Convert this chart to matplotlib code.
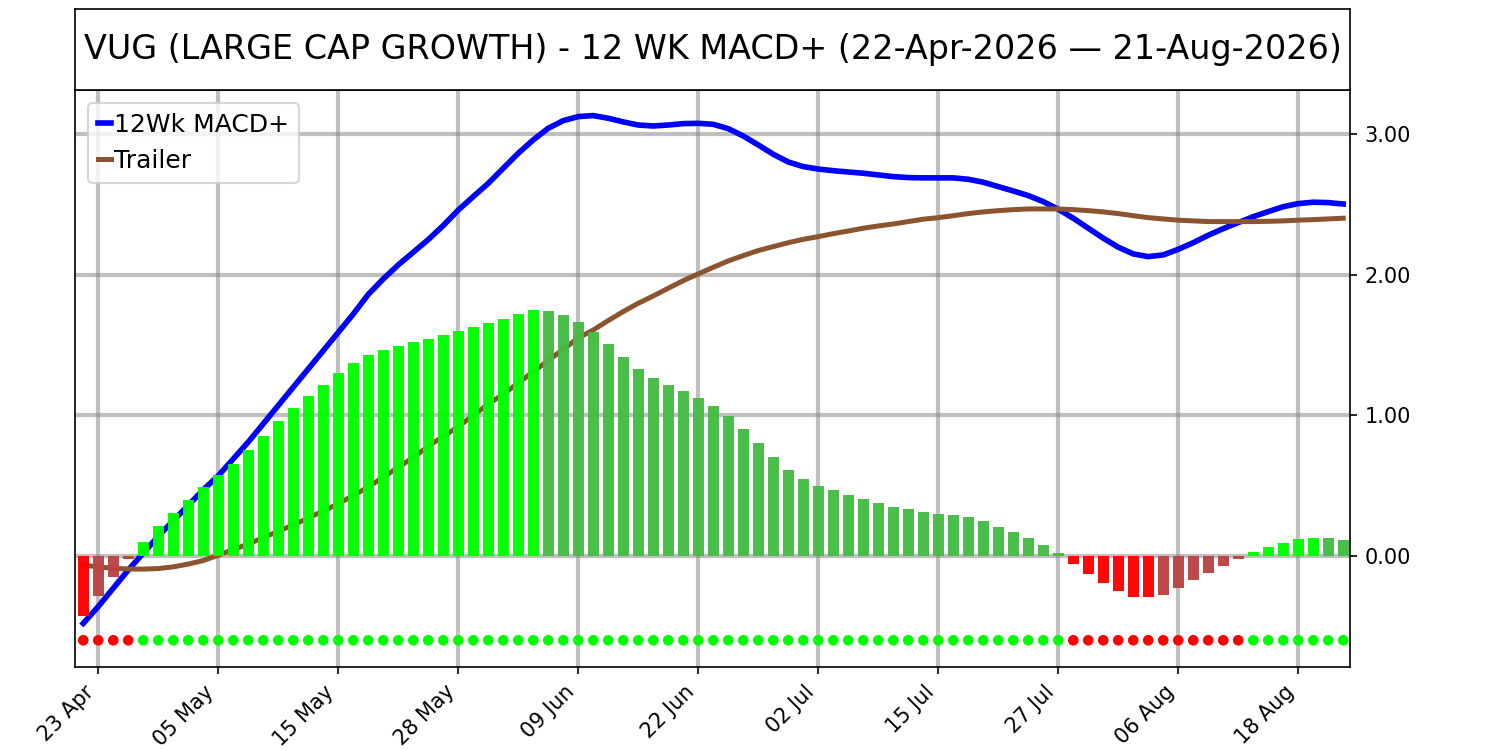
import numpy as np
import matplotlib
matplotlib.use("Agg")
import matplotlib.pyplot as plt

# 12Wk MACD+ line, its trailer and the histogram, one value per trading day
# (22-Apr-2026 .. 21-Aug-2026, 85 sessions)
macd = [-0.48, -0.36, -0.23, -0.10, 0.02, 0.14, 0.25, 0.36, 0.47, 0.57,
        0.69, 0.81, 0.94, 1.07, 1.20, 1.33, 1.46, 1.59, 1.72, 1.86,
        1.97, 2.07, 2.16, 2.25, 2.35, 2.46, 2.556, 2.65, 2.757, 2.864,
        2.959, 3.042, 3.096, 3.125, 3.132, 3.113, 3.087, 3.065, 3.058, 3.065,
        3.075, 3.077, 3.070, 3.039, 2.987, 2.923, 2.857, 2.802, 2.769, 2.752,
        2.740, 2.731, 2.722, 2.710, 2.698, 2.691, 2.689, 2.689, 2.689, 2.679,
        2.658, 2.627, 2.596, 2.563, 2.520, 2.466, 2.402, 2.331, 2.260, 2.196,
        2.148, 2.129, 2.141, 2.181, 2.228, 2.281, 2.328, 2.371, 2.413, 2.449,
        2.484, 2.506, 2.516, 2.513, 2.503]

trailer = [-0.065, -0.078, -0.088, -0.093, -0.094, -0.090, -0.078, -0.058, -0.033, 0.005,
           0.045, 0.085, 0.13, 0.175, 0.22, 0.27, 0.32, 0.37, 0.43, 0.49,
           0.56, 0.63, 0.70, 0.78, 0.85, 0.92, 1.00, 1.08, 1.15, 1.23,
           1.31, 1.39, 1.47, 1.55, 1.607, 1.674, 1.738, 1.797, 1.849, 1.904,
           1.958, 2.006, 2.053, 2.098, 2.136, 2.172, 2.200, 2.228, 2.252, 2.271,
           2.292, 2.311, 2.331, 2.347, 2.361, 2.378, 2.395, 2.406, 2.420, 2.435,
           2.447, 2.456, 2.463, 2.468, 2.468, 2.468, 2.463, 2.456, 2.447, 2.435,
           2.420, 2.406, 2.397, 2.388, 2.383, 2.378, 2.378, 2.378, 2.378, 2.380,
           2.383, 2.388, 2.392, 2.397, 2.402]

hist = [-0.426, -0.284, -0.151, -0.024, 0.099, 0.213, 0.307, 0.397, 0.487, 0.574,
        0.657, 0.752, 0.851, 0.957, 1.052, 1.135, 1.213, 1.298, 1.369, 1.426,
        1.468, 1.496, 1.525, 1.546, 1.574, 1.603, 1.631, 1.660, 1.688, 1.723,
        1.747, 1.742, 1.716, 1.667, 1.591, 1.510, 1.418, 1.326, 1.262, 1.213,
        1.170, 1.120, 1.064, 0.993, 0.901, 0.801, 0.702, 0.610, 0.546, 0.496,
        0.468, 0.433, 0.404, 0.376, 0.348, 0.333, 0.312, 0.298, 0.291, 0.277,
        0.248, 0.206, 0.170, 0.128, 0.078, 0.020, -0.060, -0.130, -0.190, -0.250,
        -0.290, -0.295, -0.275, -0.225, -0.170, -0.120, -0.070, -0.025, 0.030, 0.065,
        0.093, 0.121, 0.129, 0.126, 0.113]

tick_labels = ["23 Apr", "05 May", "15 May", "28 May", "09 Jun", "22 Jun",
               "02 Jul", "15 Jul", "27 Jul", "06 Aug", "18 Aug"]
tick_step = 8
title = "VUG (LARGE CAP GROWTH) - 12 WK MACD+ (22-Apr-2026 \u2014 21-Aug-2026)"

# colours
UP_POS = "#00ff00"
DN_POS = "#44bb44"
DN_NEG = "#ff0000"
UP_NEG = "#bb4444"
DOT_LEVEL = -0.6

x = np.arange(len(hist))
h = np.array(hist)
prev = np.concatenate([[np.inf], h[:-1]])
bar_cols = []
for v, p in zip(h, prev):
    if v >= 0:
        bar_cols.append(UP_POS if v >= p else DN_POS)
    else:
        bar_cols.append(DN_NEG if v < p else UP_NEG)
dot_cols = [UP_POS if v >= 0 else DN_NEG for v in h]

fig = plt.figure(figsize=(10, 5), dpi=150)
ax = fig.add_axes([0.05, 0.1107, 0.85, 0.7693])
tax = fig.add_axes([0.05, 0.88, 0.85, 0.1084])

# title box
tax.set_xticks([])
tax.set_yticks([])
tax.text(0.5, 0.5, title, ha="center", va="center", fontsize=16,
         transform=tax.transAxes)

ax.set_axisbelow(True)
ax.grid(True, color="gray", alpha=0.5, linewidth=2)
ax.plot(x, macd, color="#0000ff", linewidth=2.7, label="12Wk MACD+", zorder=2)
ax.plot(x, trailer, color="#8b542e", linewidth=2.4, label="Trailer", zorder=2)
ax.bar(x, h, width=0.7, color=bar_cols, alpha=0.97, zorder=3)
ax.scatter(x, np.full(len(x), DOT_LEVEL), s=26, c=dot_cols, zorder=4,
           linewidths=0)

ax.set_xlim(-0.55, len(x) - 0.55)
ax.set_ylim(-0.79, 3.314)
ax.set_yticks([0, 1, 2, 3])
ax.set_yticklabels(["%.2f" % t for t in [0, 1, 2, 3]])
ax.yaxis.tick_right()
ax.set_xticks(x[1::tick_step])
ax.set_xticklabels(tick_labels, rotation=45, ha="right")

ax.legend(loc="upper left", fontsize=12, handlelength=0.55, handletextpad=0.1)

fig.savefig("out.png", dpi=150)
